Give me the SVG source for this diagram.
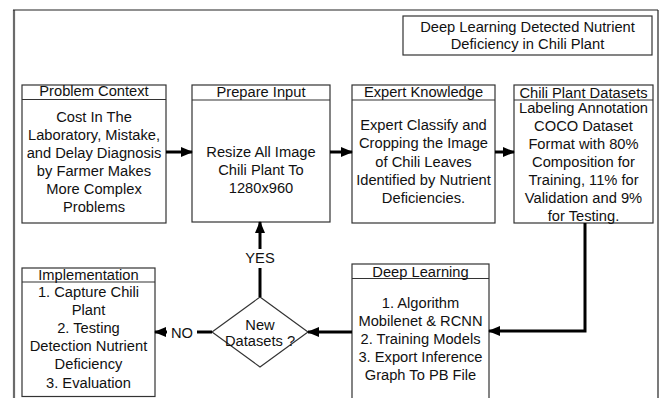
<svg xmlns="http://www.w3.org/2000/svg" width="665" height="398" viewBox="0 0 665 398">
  <style>
    .box { fill: #ffffff; stroke: #333333; stroke-width: 1.2; }
    .hdr { fill: none; stroke: #333333; stroke-width: 1.2; }
    .t { font-family: "Liberation Sans", Arial, sans-serif; font-size: 14.7px; fill: #111111; text-anchor: middle; }
    .conn { fill: none; stroke: #000000; stroke-width: 3; }
  </style>
  <defs>
    <marker id="arrow" markerUnits="userSpaceOnUse" markerWidth="12" markerHeight="12" viewBox="0 0 12 12" refX="11" refY="6" orient="auto">
      <path d="M0,1 L12,6 L0,11 Z" fill="#000000"/>
    </marker>
  </defs>

  <rect width="665" height="398" fill="#ffffff"/>

  <!-- outer frame, open at the bottom -->
  <g id="frame">
    <line x1="14" y1="10" x2="14" y2="398" stroke="#6b6b6b" stroke-width="2.2"/>
    <line x1="13" y1="10" x2="658" y2="10" stroke="#222222" stroke-width="1.2"/>
    <line x1="658" y1="10" x2="658" y2="398" stroke="#222222" stroke-width="1.2"/>
  </g>

  <g id="title">
    <rect class="box" x="403" y="16" width="249" height="39"/>
    <text class="t" x="527.5" y="32">Deep Learning Detected Nutrient</text>
    <text class="t" x="527.5" y="49">Deficiency in Chili Plant</text>
  </g>

  <g id="problem-context">
    <rect class="box" x="22" y="85" width="144" height="138"/>
    <line class="hdr" x1="22" y1="99.5" x2="166" y2="99.5"/>
    <text class="t" x="94" y="96">Problem Context</text>
    <text class="t" x="94" y="122">Cost In The</text>
    <text class="t" x="94" y="139.9">Laboratory, Mistake,</text>
    <text class="t" x="94" y="157.8">and Delay Diagnosis</text>
    <text class="t" x="94" y="175.7">by Farmer Makes</text>
    <text class="t" x="94" y="193.6">More Complex</text>
    <text class="t" x="94" y="211.5">Problems</text>
  </g>

  <g id="prepare-input">
    <rect class="box" x="192" y="85" width="138" height="137"/>
    <line class="hdr" x1="192" y1="100" x2="330" y2="100"/>
    <text class="t" x="261" y="97">Prepare Input</text>
    <text class="t" x="261" y="157">Resize All Image</text>
    <text class="t" x="261" y="175">Chili Plant To</text>
    <text class="t" x="261" y="193">1280x960</text>
  </g>

  <g id="expert-knowledge">
    <rect class="box" x="352" y="85" width="143" height="138"/>
    <line class="hdr" x1="352" y1="100" x2="495" y2="100"/>
    <text class="t" x="423.5" y="97">Expert Knowledge</text>
    <text class="t" x="423.5" y="130.3">Expert Classify and</text>
    <text class="t" x="423.5" y="148.4">Cropping the Image</text>
    <text class="t" x="423.5" y="166.5">of Chili Leaves</text>
    <text class="t" x="423.5" y="184.6">Identified by Nutrient</text>
    <text class="t" x="423.5" y="202.7">Deficiencies.</text>
  </g>

  <g id="chili-plant-datasets">
    <rect class="box" x="514" y="85" width="139" height="138"/>
    <line class="hdr" x1="514" y1="100" x2="653" y2="100"/>
    <text class="t" x="583.5" y="98">Chili Plant Datasets</text>
    <text class="t" x="583.5" y="112.6">Labeling Annotation</text>
    <text class="t" x="583.5" y="130.6">COCO Dataset</text>
    <text class="t" x="583.5" y="148.6">Format with 80%</text>
    <text class="t" x="583.5" y="166.6">Composition for</text>
    <text class="t" x="583.5" y="184.6">Training, 11% for</text>
    <text class="t" x="583.5" y="202.6">Validation and 9%</text>
    <text class="t" x="583.5" y="220.6">for Testing.</text>
  </g>

  <g id="deep-learning">
    <rect class="box" x="352" y="264" width="137" height="140"/>
    <line class="hdr" x1="352" y1="278.5" x2="489" y2="278.5"/>
    <text class="t" x="420.5" y="276.5">Deep Learning</text>
    <text class="t" x="420.5" y="308.3">1. Algorithm</text>
    <text class="t" x="420.5" y="326.3">Mobilenet &amp; RCNN</text>
    <text class="t" x="420.5" y="344.3">2. Training Models</text>
    <text class="t" x="420.5" y="362.3">3. Export Inference</text>
    <text class="t" x="420.5" y="380.3">Graph To PB File</text>
  </g>

  <g id="implementation">
    <rect class="box" x="22" y="268" width="133" height="128.5"/>
    <line class="hdr" x1="22" y1="282" x2="155" y2="282"/>
    <text class="t" x="88.5" y="279.5">Implementation</text>
    <text class="t" x="88.5" y="296.5">1. Capture Chili</text>
    <text class="t" x="88.5" y="314.7">Plant</text>
    <text class="t" x="88.5" y="332.9">2. Testing</text>
    <text class="t" x="88.5" y="351.1">Detection Nutrient</text>
    <text class="t" x="88.5" y="369.3">Deficiency</text>
    <text class="t" x="88.5" y="387.5">3. Evaluation</text>
  </g>

  <g id="new-datasets">
    <polygon class="box" points="260,297 308,332 260,367 212,332"/>
    <text class="t" x="260" y="329.5">New</text>
    <text class="t" x="260" y="345.5">Datasets ?</text>
  </g>

  <g id="connectors">
    <line class="conn" x1="166" y1="152" x2="192" y2="152" marker-end="url(#arrow)"/>
    <line class="conn" x1="330" y1="152" x2="352" y2="152" marker-end="url(#arrow)"/>
    <line class="conn" x1="495" y1="152" x2="514" y2="152" marker-end="url(#arrow)"/>
    <polyline class="conn" points="585,223 585,331 489,331" marker-end="url(#arrow)"/>
    <line class="conn" x1="352" y1="332" x2="308" y2="332" marker-end="url(#arrow)"/>
    <!-- YES branch -->
    <line class="conn" x1="260" y1="297" x2="260" y2="268"/>
    <line class="conn" x1="260" y1="249" x2="260" y2="222" marker-end="url(#arrow)"/>
    <text class="t" x="260" y="263">YES</text>
    <!-- NO branch -->
    <line class="conn" x1="212" y1="332" x2="197" y2="332"/>
    <line class="conn" x1="167" y1="332" x2="155" y2="332" marker-end="url(#arrow)"/>
    <text class="t" x="182" y="337.5">NO</text>
  </g>
</svg>
